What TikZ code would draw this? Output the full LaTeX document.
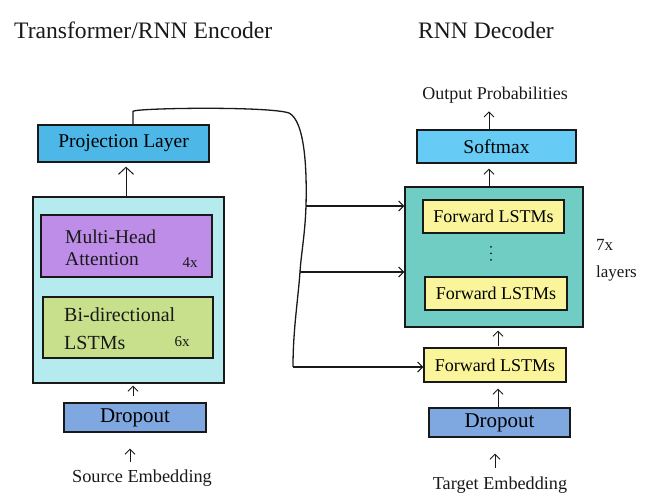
\documentclass[tikz,border=0pt]{standalone}
\usepackage{fontspec}
\setmainfont{Liberation Serif}
\usetikzlibrary{arrows.meta}
\definecolor{projblue}{RGB}{77,184,232}
\definecolor{softblue}{RGB}{102,204,245}
\definecolor{encfill}{RGB}{181,235,239}
\definecolor{mhafill}{RGB}{190,141,232}
\definecolor{lstmfill}{RGB}{200,224,140}
\definecolor{dropfill}{RGB}{127,168,224}
\definecolor{decfill}{RGB}{112,205,196}
\definecolor{fwdfill}{RGB}{250,245,154}
\definecolor{ink}{RGB}{25,25,25}
\begin{document}
\begin{tikzpicture}[x=1pt,y=-1pt,
  box/.style={draw=ink, line width=1.3pt, inner sep=0pt},
  arr/.style={-{Straight Barb[length=5pt,width=10pt]}, line width=0.9pt, draw=ink},
  bigarr/.style={-{Straight Barb[length=7pt,width=15pt]}, line width=1pt, draw=ink},
  conn/.style={line width=1.3pt, draw=ink},
  fs/.style={font=\fontsize{#1}{#1}\selectfont},
  lbl/.style={inner sep=0pt, text=ink}]
\useasboundingbox (0,0) rectangle (649,502);

% titles
\node[lbl, fs=23.6, anchor=west] (t1) at (14,30) {Transformer/RNN Encoder};
\node[lbl, fs=23.6, anchor=west] (t2) at (418,30) {RNN Decoder};

% encoder
\node[box, fill=projblue, minimum width=171pt, minimum height=37pt, fs=19.5] (proj) at (123.5,143.5) {Projection Layer};
\node[box, fill=encfill, minimum width=191pt, minimum height=186pt] (enc) at (128.5,290) {};
\node[box, fill=mhafill, minimum width=171pt, minimum height=62pt] (mha) at (126.5,246) {};
\node[box, fill=lstmfill, minimum width=170pt, minimum height=61pt] (bil) at (128,327.5) {};
\node[lbl, anchor=west, align=left, font=\fontsize{19.5}{22}\selectfont] (mhat) at (65,248) {Multi-Head\\Attention};
\node[lbl, fs=15] (n4x) at (190,263) {4x};
\node[lbl, anchor=west, align=left, font=\fontsize{20}{28}\selectfont] (bilt) at (64,329) {Bi-directional\\LSTMs};
\node[lbl, fs=15] (n6x) at (182,342) {6x};
\node[box, fill=dropfill, minimum width=142pt, minimum height=29pt, fs=21] (drop1) at (135,417.5) {Dropout};
\node[lbl, fs=18.3] (src) at (142,478) {Source Embedding};

\coordinate (xa) at (126,0);
\coordinate (xb) at (133,0);
\coordinate (xc) at (130,0);
\draw[bigarr, shorten >=4pt] (enc.north -| xa) -- (proj.south -| xa);
\draw[arr, shorten <=6pt, shorten >=2pt] (drop1.north -| xb) -- (enc.south -| xb);
\draw[arr, shorten <=7pt, shorten >=16pt] (src.north -| xc) -- (drop1.south -| xc);

% decoder
\node[lbl, fs=18] (outp) at (495,95) {Output Probabilities};
\node[box, fill=softblue, minimum width=159pt, minimum height=33pt, fs=19.5] (soft) at (496.5,146.5) {Softmax};
\node[box, fill=decfill, minimum width=178pt, minimum height=140pt] (decb) at (494,257) {};
\node[box, fill=fwdfill, minimum width=141pt, minimum height=33pt, fs=18] (fl1) at (493.5,216.5) {Forward LSTMs};
\fill[ink] (491,247) circle (1pt) (491,253.5) circle (1pt) (491,260) circle (1pt);
\node[box, fill=fwdfill, minimum width=142pt, minimum height=33pt, fs=18] (fl2) at (496,293.5) {Forward LSTMs};
\node[lbl, anchor=west, align=left, font=\fontsize{17}{27}\selectfont] (rep) at (596,260) {7x\\layers};
\node[box, fill=fwdfill, minimum width=142pt, minimum height=34pt, fs=18] (fl3) at (495,365) {Forward LSTMs};
\node[box, fill=dropfill, minimum width=141pt, minimum height=29pt, fs=21] (drop2) at (499.5,422.5) {Dropout};
\node[lbl, fs=18.2] (tgt) at (500,485) {Target Embedding};

\coordinate (xd) at (489,0);
\coordinate (xe) at (498,0);
\coordinate (xf) at (495,0);
\draw[arr, shorten >=8pt] (soft.north -| xd) -- (outp.south -| xd);
\draw[arr, shorten >=5pt] (decb.north -| xd) -- (soft.south -| xd);
\draw[arr, shorten >=3pt, shorten <=1pt] (fl3.north -| xe) -- (decb.south -| xe);
\draw[arr, shorten >=6pt] (drop2.north -| xe) -- (fl3.south -| xe);
\draw[arr, shorten <=9pt, shorten >=16pt] (tgt.north -| xf) -- (drop2.south -| xf);

% connector from encoder to decoder
\coordinate (j1) at (306,206);
\coordinate (j2) at (300,272);
\coordinate (j3) at (293,367);
\draw[conn] ([xshift=9.5pt]proj.north) -- ++(0,-13)
  .. controls (135,108) and (268,106) .. (289,113)
  .. controls (305,121) and (307,170) .. (j1)
  .. controls (305,235) and (301,255) .. (j2)
  .. controls (298,300) and (293,330) .. (j3);
\draw[arr, line width=1.1pt] (j1) -- (j1 -| decb.west);
\draw[arr, line width=1.1pt] (j2) -- (j2 -| decb.west);
\draw[arr, line width=1.1pt] (j3) -- (j3 -| fl3.west);
\end{tikzpicture}
\end{document}
